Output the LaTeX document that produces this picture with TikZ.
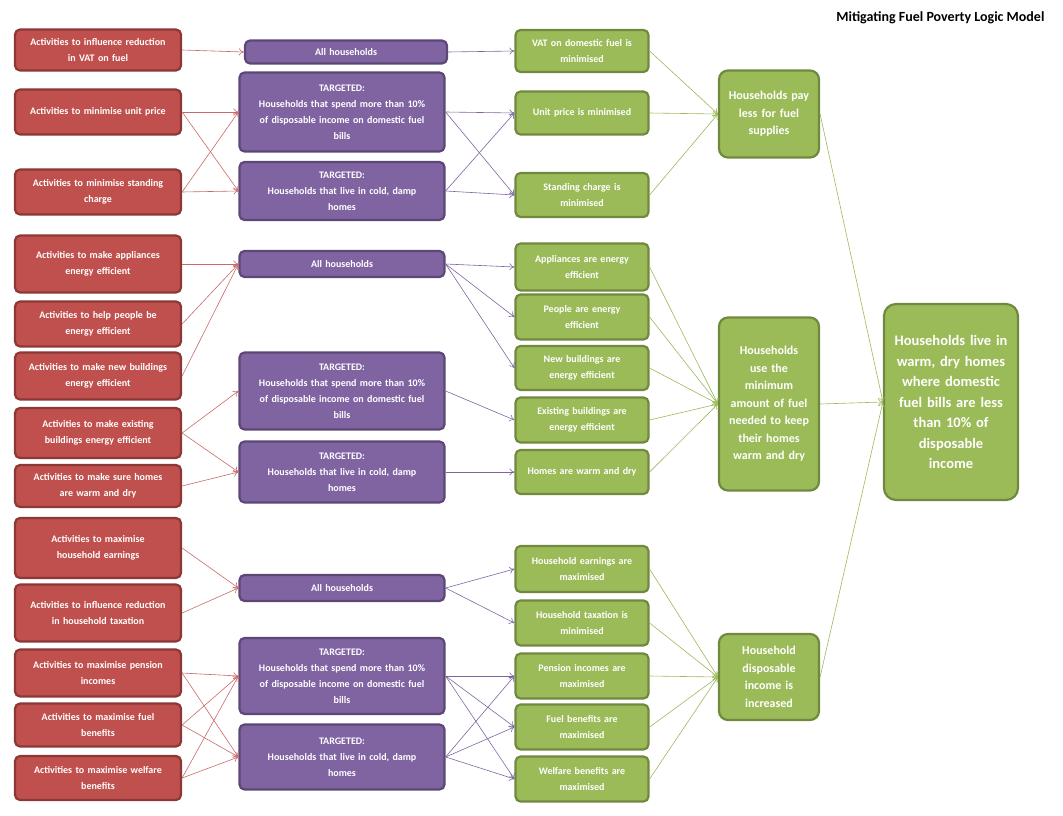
\documentclass[tikz,border=0pt]{standalone}
\usepackage{fontspec}
\setmainfont{Carlito}
\usetikzlibrary{arrows.meta}
\definecolor{rf}{HTML}{C0504D}\definecolor{rb}{HTML}{8C3836}
\definecolor{pf}{HTML}{8064A2}\definecolor{pb}{HTML}{5C4776}
\definecolor{gf}{HTML}{9BBB59}\definecolor{gb}{HTML}{71893F}
\tikzset{
 box/.style={rounded corners=5pt,line width=2.2pt,align=center,text=white,font=\bfseries\fontsize{10}{16}\selectfont,inner sep=1pt,anchor=center},
 red/.style={box,fill=rf,draw=rb,minimum width=166pt,text width=162pt},
 pur/.style={box,fill=pf,draw=pb,text width=200pt},
 grn/.style={box,fill=gf,draw=gb,minimum width=133pt,text width=130pt},
 mid/.style={box,fill=gf,draw=gb,minimum width=100pt,text width=96pt,rounded corners=9pt,font=\bfseries\fontsize{12}{17.5}\selectfont},
 ra/.style={draw=rf!85,line width=0.6pt,-{To[length=5pt,width=7pt]}},
 pa/.style={draw=pf,line width=0.6pt,-{To[length=5pt,width=7pt]}},
 ga/.style={draw=gf,line width=0.6pt,-{To[length=5pt,width=7pt]}},
}
\begin{document}
\begin{tikzpicture}[x=1pt,y=-1pt]
\useasboundingbox (0,0) rectangle (1063,816);
\node[font=\bfseries\fontsize{14}{16}\selectfont,anchor=east] (title) at (1048,18) {Mitigating Fuel Poverty Logic Model};
% red
\node[red,minimum height=41pt] (r1) at (98,50) {Activities to influence reduction\\in VAT on fuel};
\node[red,minimum height=45pt] (r2) at (98,112) {Activities to minimise unit price};
\node[red,minimum height=45pt] (r3) at (98,192) {Activities to minimise standing\\charge};
\node[red,minimum height=57pt] (r4) at (98,264) {Activities to make appliances\\energy efficient};
\node[red,minimum height=45pt] (r5) at (98,324) {Activities to help people be\\energy efficient};
\node[red,minimum height=47pt] (r6) at (98,376) {Activities to make new buildings\\energy efficient};
\node[red,minimum height=50pt] (r7) at (98,433) {Activities to make existing\\buildings energy efficient};
\node[red,minimum height=42pt] (r8) at (98,486) {Activities to make sure homes\\are warm and dry};
\node[red,minimum height=60pt] (r9) at (98,548) {Activities to maximise\\household earnings};
\node[red,minimum height=57pt] (r10) at (98,613) {Activities to influence reduction\\in household taxation};
\node[red,minimum height=47pt] (r11) at (98,673) {Activities to maximise pension\\incomes};
\node[red,minimum height=43pt] (r12) at (98,725) {Activities to maximise fuel\\benefits};
\node[red,minimum height=44pt] (r13) at (98,778) {Activities to maximise welfare\\benefits};
% purple
\node[pur,minimum width=197pt,minimum height=23pt] (p1) at (346,52) {All households};
\node[pur,minimum width=205pt,minimum height=79pt] (p2) at (342,112) {TARGETED:\\Households that spend more than 10\%\\of disposable income on domestic fuel\\bills};
\node[pur,minimum width=205pt,minimum height=58pt] (p3) at (342,191) {TARGETED:\\Households that live in cold, damp\\homes};
\node[pur,minimum width=205pt,minimum height=26pt] (p4) at (342,264) {All households};
\node[pur,minimum width=205pt,minimum height=77pt] (p5) at (342,391) {TARGETED:\\Households that spend more than 10\%\\of disposable income on domestic fuel\\bills};
\node[pur,minimum width=205pt,minimum height=61pt] (p6) at (342,472) {TARGETED:\\Households that live in cold, damp\\homes};
\node[pur,minimum width=205pt,minimum height=26pt] (p7) at (342,588) {All households};
\node[pur,minimum width=205pt,minimum height=76pt] (p8) at (342,676) {TARGETED:\\Households that spend more than 10\%\\of disposable income on domestic fuel\\bills};
\node[pur,minimum width=205pt,minimum height=65pt] (p9) at (342,757) {TARGETED:\\Households that live in cold, damp\\homes};
% green
\node[grn,minimum height=42pt] (g1) at (582,51) {VAT on domestic fuel is\\minimised};
\node[grn,minimum height=43pt] (g2) at (582,113) {Unit price is minimised};
\node[grn,minimum height=44pt] (g3) at (582,195) {Standing charge is\\minimised};
\node[grn,minimum height=47pt] (g4) at (582,267) {Appliances are energy\\efficient};
\node[grn,minimum height=45pt] (g5) at (582,317) {People are energy\\efficient};
\node[grn,minimum height=44pt] (g6) at (582,368) {New buildings are\\energy efficient};
\node[grn,minimum height=45pt] (g7) at (582,420) {Existing buildings are\\energy efficient};
\node[grn,minimum height=44pt] (g8) at (582,472) {Homes are warm and dry};
\node[grn,minimum height=46pt] (g9) at (582,569) {Household earnings are\\maximised};
\node[grn,minimum height=45pt] (g10) at (582,623) {Household taxation is\\minimised};
\node[grn,minimum height=45pt] (g11) at (582,676) {Pension incomes are\\maximised};
\node[grn,minimum height=45pt] (g12) at (582,727) {Fuel benefits are\\maximised};
\node[grn,minimum height=45pt] (g13) at (582,779) {Welfare benefits are\\maximised};
% intermediate
\node[mid,minimum height=87pt] (i1) at (769,114) {Households pay\\less for fuel\\supplies};
\node[mid,minimum height=173pt,text width=90pt] (i2) at (769,404) {Households\\use the\\minimum\\amount of fuel\\needed to keep\\their homes\\warm and dry};
\node[mid,minimum height=86pt,text width=90pt] (i3) at (769,677) {Household\\disposable\\income is\\increased};
\node[mid,minimum width=134pt,text width=130pt,minimum height=196pt,rounded corners=12pt,font=\bfseries\fontsize{14.5}{20.5}\selectfont] (f) at (951,402) {Households live in\\warm, dry homes\\where domestic\\fuel bills are less\\than 10\% of\\disposable\\income};
% red arrows
\draw[ra] (r1.east) -- (p1.west);
\foreach \a/\b in {r2/p2,r2/p3,r3/p2,r3/p3,r4/p4,r5/p4,r6/p4,r7/p5,r7/p6,r8/p6,r9/p7,r10/p7,r11/p8,r11/p9,r12/p8,r12/p9,r13/p8,r13/p9}
  \draw[ra] (\a.east) -- (\b.west);
% purple arrows
\foreach \a/\b in {p1/g1,p2/g2,p2/g3,p3/g2,p3/g3,p4/g4,p4/g5,p4/g6,p5/g7,p6/g8,p7/g9,p7/g10,p8/g11,p8/g12,p8/g13,p9/g11,p9/g12,p9/g13}
  \draw[pa] (\a.east) -- (\b.west);
% green arrows
\foreach \a/\b in {g1/i1,g2/i1,g3/i1,g4/i2,g5/i2,g6/i2,g7/i2,g8/i2,g9/i3,g10/i3,g11/i3,g12/i3,g13/i3,i1/f,i2/f,i3/f}
  \draw[ga] (\a.east) -- (\b.west);
\end{tikzpicture}
\end{document}
